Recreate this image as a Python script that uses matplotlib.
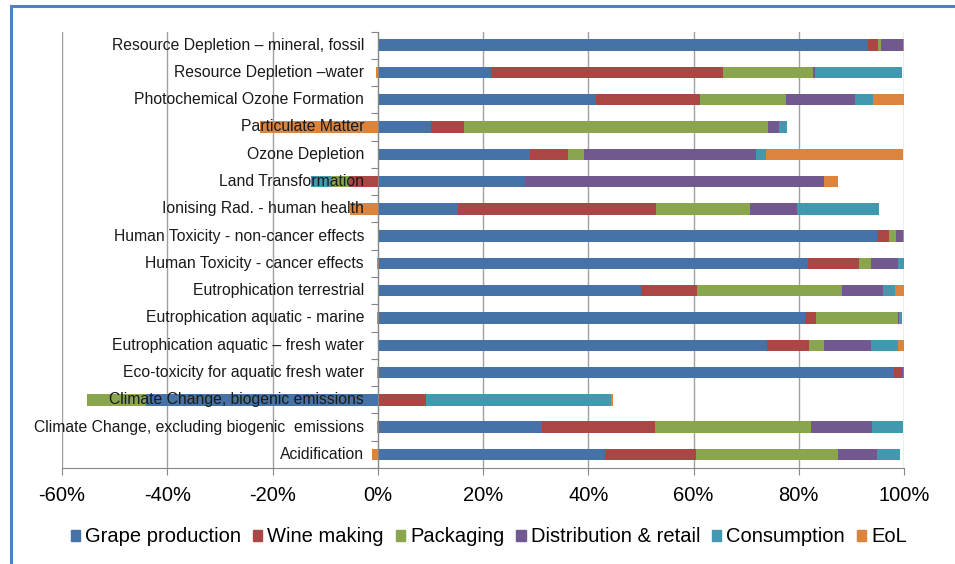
import numpy as np
import matplotlib.pyplot as plt
from matplotlib.patches import Patch, Rectangle

plt.rcParams['font.family'] = ['Liberation Sans', 'DejaVu Sans']

categories = [
    "Resource Depletion \u2013 mineral, fossil",
    "Resource Depletion \u2013water",
    "Photochemical Ozone Formation",
    "Particulate Matter",
    "Ozone Depletion",
    "Land Transformation",
    "Ionising Rad. - human health",
    "Human Toxicity - non-cancer effects",
    "Human Toxicity - cancer effects",
    "Eutrophication terrestrial",
    "Eutrophication aquatic - marine",
    "Eutrophication aquatic \u2013 fresh water",
    "Eco-toxicity for aquatic fresh water",
    "Climate Change, biogenic emissions",
    "Climate Change, excluding biogenic  emissions",
    "Acidification",
]

stages = ["Grape production", "Wine making", "Packaging",
          "Distribution & retail", "Consumption", "EoL"]

# shares in %, one list per life-cycle stage, same order as categories
grape = [93.1, 21.6, 41.4, 10.2, 28.9, 27.9, 15.3, 94.9, 81.7, 50.1, 81.1, 73.9, 98.1, -44.1, 31.2, 43.2]
wine = [2.0, 44.0, 19.8, 6.2, 7.3, -5.4, 37.5, 2.2, 9.8, 10.6, 2.2, 8.0, 1.4, 9.2, 21.5, 17.2]
packaging = [0.5, 17.1, 16.4, 57.7, 2.9, -3.5, 18.0, 1.4, 2.3, 27.6, 15.5, 2.9, 0.0, -11.1, 29.6, 27.0]
distribution = [4.2, 0.3, 13.0, 2.2, 32.7, 56.9, 8.8, 1.3, 5.0, 7.7, 0.3, 9.0, 0.4, 0.0, 11.6, 7.5]
consumption = [0.0, 16.6, 3.5, 1.4, 2.0, -3.8, 15.6, 0.0, 1.3, 2.3, 0.6, 5.1, 0.1, 35.2, 6.0, 4.3]
eol = [0.2, -0.4, 5.9, -22.4, 26.1, 2.6, -5.2, 0.2, -0.2, 1.7, -0.2, 1.2, -0.2, 0.3, -0.2, -1.0]

colors = ["#4572A7", "#AA4643", "#89A54E", "#71588F", "#4198AF", "#DB843D"]

series = [grape, wine, packaging, distribution, consumption, eol]

fig = plt.figure(figsize=(9.55, 5.64), dpi=100)
ax = fig.add_axes([62 / 955, 1 - 468 / 564, (904 - 62) / 955, (468 - 31.5) / 564])

y = np.arange(len(categories))
pos_left = np.zeros(len(categories))
neg_left = np.zeros(len(categories))
for vals, col, name in zip(series, colors, stages):
    vals = np.array(vals)
    left = np.where(vals >= 0, pos_left, neg_left)
    ax.barh(y, vals, left=left, height=0.42, color=col, label=name, zorder=2)
    pos_left += np.where(vals >= 0, vals, 0)
    neg_left += np.where(vals < 0, vals, 0)

ax.set_xlim(-60, 100)
ax.set_ylim(len(categories) - 0.5, -0.5)
ax.set_xticks(np.arange(-60, 101, 20))
ax.set_xticklabels([f"{v}%" for v in range(-60, 101, 20)], fontsize=14.5)
ax.xaxis.grid(True, color="#A0A0A0", linewidth=1.0)
ax.set_axisbelow(True)
ax.tick_params(axis="x", length=5, color="#868686", pad=8)

# category axis sits at 0%, ticks between the categories
ax.spines["left"].set_position(("data", 0))
ax.spines["left"].set_color("#868686")
ax.spines["left"].set_zorder(3)
ax.spines["bottom"].set_color("#868686")
ax.spines["top"].set_visible(False)
ax.spines["right"].set_visible(False)
ax.set_yticks(np.arange(-0.5, len(categories), 1.0))
ax.set_yticklabels([])
ax.tick_params(axis="y", length=5, color="#868686", direction="out")

for yi, label in zip(y, categories):
    ax.text(-2.6, yi, label, ha="right", va="center", fontsize=11.3,
            color="#1a1a1a", zorder=5)

handles = [Patch(color=c, label=s) for c, s in zip(colors, stages)]
fig.legend(handles=handles, loc="center", bbox_to_anchor=(489 / 955, 1 - 537 / 564),
           ncol=6, frameon=False, fontsize=14.5, handlelength=0.45,
           handleheight=0.45, handletextpad=0.25, columnspacing=0.6)

# chart area frame (cut off at the right and bottom in the original)
fig.patches.append(Rectangle((11 / 955, -0.1), 1.2, 1 - 6 / 564 + 0.1,
                             transform=fig.transFigure, fill=False,
                             edgecolor="#4F81BD", linewidth=2.2))

fig.savefig("out.png", dpi=100)
